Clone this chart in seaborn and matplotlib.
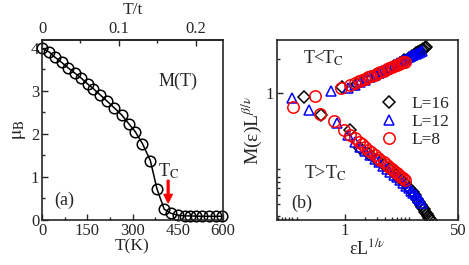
import numpy as np
import seaborn as sns
import matplotlib.pyplot as plt
from matplotlib.ticker import FixedLocator, NullFormatter

# panel (a): magnetisation vs temperature
temp_K = [0, 24, 43, 65, 87, 109, 129, 151, 170, 192, 214, 240, 264, 287,
          309, 333, 359, 381, 405, 427, 450, 473, 492, 511, 530, 552, 575, 597]
moment = [3.99, 3.90, 3.78, 3.66, 3.53, 3.41, 3.30, 3.16, 3.05, 2.91, 2.77,
          2.60, 2.44, 2.24, 2.05, 1.77, 1.38, 0.72, 0.25, 0.155, 0.11, 0.095,
          0.093, 0.088, 0.086, 0.085, 0.085, 0.085]
K_per_t = 2550.0

# panel (b): scaling collapse, two branches per size
L16_x = [0.24, 0.89, 1.5, 2.1, 2.8, 3.6, 4.5, 5.5, 6.6, 7.8, 9.0, 10.2, 11.0,
         11.8, 12.6, 13.4, 14.2, 15.0, 15.8, 16.6,
         0.44, 1.19, 1.68, 2.3, 3.0, 3.8, 4.7, 5.7, 6.8, 8.0, 9.2, 10.4, 11.2,
         12.0, 12.8, 13.6, 14.4, 15.2, 16.0, 16.8, 17.6, 18.4, 19.2]
L16_y = [0.90, 1.21, 1.36, 1.56, 1.76, 1.97, 2.17, 2.40, 2.62, 2.84, 3.05,
         3.26, 3.40, 3.55, 3.70, 3.85, 3.98, 4.12, 4.25, 4.38,
         0.50, 0.31, 0.174, 0.145, 0.122, 0.104, 0.089, 0.077, 0.066, 0.057,
         0.049, 0.043, 0.039, 0.035, 0.032, 0.029, 0.027, 0.025, 0.023,
         0.0215, 0.020, 0.019, 0.018]

L12_x = [0.16, 0.62, 1.1, 1.4, 1.7, 2.0, 2.4, 2.8, 3.2, 3.7, 4.2, 4.8, 5.4,
         6.0, 6.7, 7.4, 8.2, 9.0, 9.8, 10.6, 11.5, 12.4, 13.3, 14.2,
         0.29, 0.76, 1.1, 1.4, 1.7, 2.0, 2.4, 2.8, 3.2, 3.7, 4.2, 4.8, 5.4,
         6.0, 6.7, 7.4, 8.2, 9.0, 9.8, 10.6, 11.5, 12.4, 13.3, 14.2]
L12_y = [0.87, 1.09, 1.20, 1.30, 1.41, 1.52, 1.66, 1.79, 1.91, 2.05, 2.18,
         2.33, 2.47, 2.60, 2.74, 2.87, 3.01, 3.15, 3.28, 3.40, 3.52, 3.62,
         3.70, 3.78,
         0.59, 0.385, 0.27, 0.215, 0.183, 0.160, 0.140, 0.124, 0.112, 0.100,
         0.091, 0.082, 0.075, 0.069, 0.063, 0.058, 0.053, 0.049, 0.045,
         0.042, 0.039, 0.036, 0.034, 0.031]

L8_x = [0.35, 0.87, 1.19, 1.4, 1.6, 1.8, 2.0, 2.25, 2.5, 2.8, 3.1, 3.4, 3.8,
        4.2, 4.6, 5.0, 5.5, 6.0, 6.5, 7.0, 7.5, 8.0,
        0.165, 0.42, 0.68, 0.96, 1.2, 1.4, 1.6, 1.8, 2.0, 2.25, 2.5, 2.8, 3.1,
        3.4, 3.8, 4.2, 4.6, 5.0, 5.5, 6.0, 6.5, 7.0, 7.5, 8.0]
L8_y = [0.93, 1.17, 1.30, 1.385, 1.46, 1.53, 1.59, 1.67, 1.74, 1.81, 1.89,
        1.96, 2.04, 2.13, 2.20, 2.28, 2.36, 2.44, 2.52, 2.59, 2.67, 2.73,
        0.64, 0.51, 0.415, 0.31, 0.267, 0.238, 0.215, 0.197, 0.181, 0.166,
        0.154, 0.141, 0.130, 0.122, 0.112, 0.104, 0.097, 0.091, 0.085,
        0.079, 0.075, 0.071, 0.067, 0.064]

sns.set_style("ticks")
plt.rcParams["font.family"] = ["Liberation Serif", "DejaVu Serif"]
plt.rcParams["mathtext.fontset"] = "stix"
plt.rcParams["xtick.direction"] = "in"
plt.rcParams["ytick.direction"] = "in"
plt.rcParams["axes.linewidth"] = 1.2

fig = plt.figure(figsize=(4.69, 2.65), dpi=100)
ax1 = fig.add_axes([0.0896, 0.170, 0.386, 0.679])
ax2 = fig.add_axes([0.590, 0.170, 0.387, 0.679])

# ---- (a)
sns.lineplot(x=temp_K, y=moment, ax=ax1, color="black", lw=1.1, marker="o",
             markersize=7.6, markerfacecolor="none", markeredgecolor="black",
             markeredgewidth=1.1, estimator=None, sort=False, clip_on=False)
ax1.set_xlim(0, 600)
ax1.set_ylim(0, 4.18)
ax1.set_xticks([0, 150, 300, 450, 600])
ax1.xaxis.set_minor_locator(FixedLocator([75, 225, 375, 525]))
ax1.set_yticks([0, 1, 2, 3, 4])
ax1.yaxis.set_minor_locator(FixedLocator([0.5, 1.5, 2.5, 3.5]))
ax1.tick_params(which="major", length=4, width=1, labelsize=12, pad=2)
ax1.tick_params(which="minor", length=2.5, width=1)
ax1.set_xlabel("T(K)", fontsize=12.5, labelpad=0)
ax1.set_ylabel(r"$\mathrm{\mu_B}$", fontsize=14, labelpad=2)

top = ax1.secondary_xaxis("top", functions=(lambda T: T / K_per_t,
                                             lambda u: u * K_per_t))
top.set_xticks([0, 0.1, 0.2])
top.set_xticklabels(["0", "0.1", "0.2"])
top.xaxis.set_minor_locator(FixedLocator([0.05, 0.15]))
top.tick_params(which="major", direction="in", length=4, width=1,
                labelsize=12, pad=2)
top.tick_params(which="minor", direction="in", length=2.5, width=1)
top.set_xlabel("T/t", fontsize=12.5, labelpad=5)

ax1.text(0.75, 0.77, "M(T)", transform=ax1.transAxes, fontsize=13,
         ha="center", va="center")
ax1.text(0.70, 0.27, r"T$_\mathrm{C}$", transform=ax1.transAxes,
         fontsize=13, ha="center", va="center")
ax1.text(0.125, 0.11, "(a)", transform=ax1.transAxes, fontsize=13,
         ha="center", va="center")
ax1.annotate("", xy=(418, 0.40), xytext=(418, 0.92),
             arrowprops=dict(color="red", width=1.3, headwidth=6,
                             headlength=6))

# ---- (b)
series = [(L16_x, L16_y, "D", "black", 6.0, "L=16"),
          (L12_x, L12_y, "^", "blue", 7.2, "L=12"),
          (L8_x, L8_y, "o", "red", 8.2, "L=8")]
handles = []
for xs, ys, mk, col, ms, lab in series:
    sns.lineplot(x=xs, y=ys, ax=ax2, linestyle="", marker=mk, markersize=ms,
                 markerfacecolor="none", markeredgecolor=col,
                 markeredgewidth=1.1, color=col, estimator=None, sort=False)
    handles.append(ax2.lines[-1])

ax2.set_xscale("log")
ax2.set_yscale("log")
ax2.set_xlim(0.0946, 50)
ax2.set_ylim(0.0179, 5.43)
ax2.xaxis.set_major_locator(FixedLocator([1, 50]))
ax2.set_xticklabels(["1", "50"])
ax2.xaxis.set_minor_locator(FixedLocator([0.1, 0.114, 0.126, 0.143, 0.16,
                                          0.19, 2, 3, 4, 5, 6, 7, 8, 9]))
ax2.xaxis.set_minor_formatter(NullFormatter())
ax2.yaxis.set_major_locator(FixedLocator([1]))
ax2.set_yticklabels(["1"])
ax2.yaxis.set_minor_locator(FixedLocator([0.02, 0.03, 0.04, 0.05, 0.06,
                                          0.07, 0.09, 3]))
ax2.yaxis.set_minor_formatter(NullFormatter())
ax2.tick_params(which="major", length=4, width=1, labelsize=12, pad=2)
ax2.tick_params(which="minor", length=2.5, width=1)
ax2.set_xlabel(r"εL$^{1/\nu}$", fontsize=13, labelpad=0)
ax2.set_ylabel(r"M(ε)L$^{\beta/\nu}$", fontsize=14, labelpad=1)

ax2.text(0.255, 0.90, r"T<T$_\mathrm{C}$", transform=ax2.transAxes,
         fontsize=13, ha="center", va="center")
ax2.text(0.265, 0.26, r"T>T$_\mathrm{C}$", transform=ax2.transAxes,
         fontsize=13, ha="center", va="center")
ax2.text(0.14, 0.095, "(b)", transform=ax2.transAxes, fontsize=13,
         ha="center", va="center")
ax2.legend(handles, ["L=16", "L=12", "L=8"], loc="center left",
           bbox_to_anchor=(0.57, 0.545), frameon=False, fontsize=12.5,
           handlelength=1.0, handletextpad=0.8, labelspacing=0.1,
           borderpad=0, borderaxespad=0)

fig.savefig("out.png", dpi=100)
